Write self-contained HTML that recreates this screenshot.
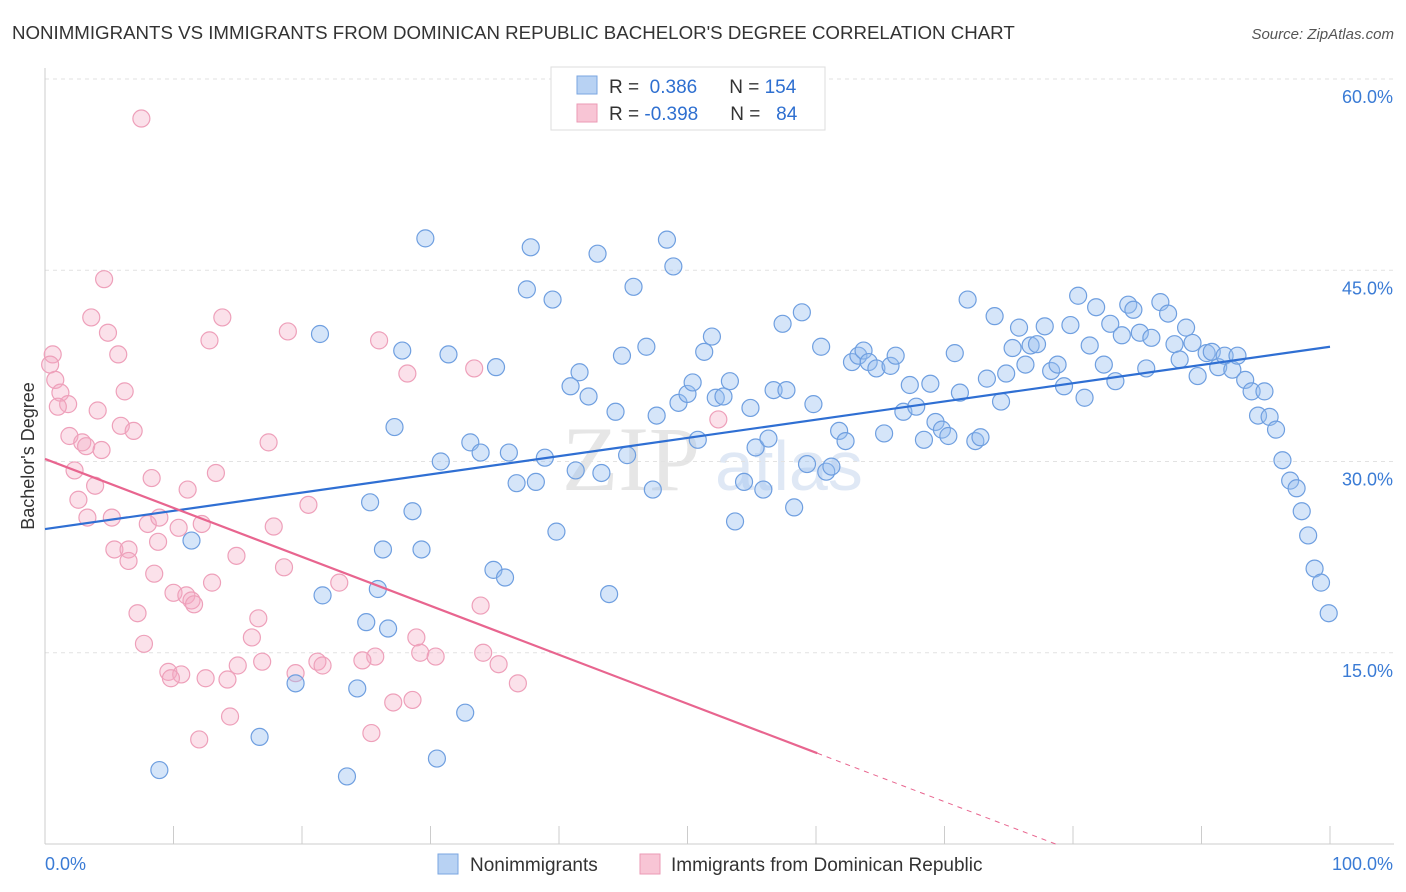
<!DOCTYPE html>
<html><head><meta charset="utf-8"><style>
body{margin:0;background:#fff;font-family:"Liberation Sans",sans-serif;}
svg{display:block}
</style></head><body>
<svg id="chart" width="1406" height="892" viewBox="0 0 1406 892">
<text x="12" y="39" font-size="18.7" fill="#333">NONIMMIGRANTS VS IMMIGRANTS FROM DOMINICAN REPUBLIC BACHELOR'S DEGREE CORRELATION CHART</text>
<text x="1394" y="39" font-size="15" fill="#555" font-style="italic" text-anchor="end">Source: ZipAtlas.com</text>
<text x="700" y="490" font-size="92" fill="#e6e6e6" text-anchor="end" font-family="Liberation Serif,serif">ZIP</text>
<text x="715" y="490" font-size="70" fill="#dfe8f5">atlas</text>
<g id="grid"></g>
<g id="marks"></g>
<g id="lines"></g>
<text transform="translate(34,456) rotate(-90)" font-size="18" fill="#333" text-anchor="middle">Bachelor's Degree</text>
<g>
<rect x="551" y="67" width="274" height="63" fill="#fff" stroke="#ddd"/>
<rect x="577" y="76" width="20" height="18" fill="#b8d2f3" stroke="#7aa6e0"/>
<rect x="577" y="104" width="20" height="18" fill="#f8c5d5" stroke="#eb9ab5"/>
<text x="609" y="93" font-size="19" fill="#333">R = <tspan fill="#2e6fd0">&#160;0.386</tspan><tspan dx="32">N = </tspan><tspan fill="#2e6fd0">154</tspan></text>
<text x="609" y="120" font-size="19" fill="#333">R = <tspan fill="#2e6fd0">-0.398</tspan><tspan dx="32">N = </tspan><tspan fill="#2e6fd0">&#160;&#160;84</tspan></text>
</g>
<g>
<rect x="438" y="854" width="20" height="20" fill="#b8d2f3" stroke="#7aa6e0"/>
<text x="470" y="871" font-size="19" fill="#333">Nonimmigrants</text>
<rect x="640" y="854" width="20" height="20" fill="#f8c5d5" stroke="#eb9ab5"/>
<text x="671" y="871" font-size="19" fill="#333">Immigrants from Dominican Republic</text>
</g>
</svg>
<script>
const blueX=[29.6,37.8,43.0,48.4,48.9,37.5,39.5,45.8,21.4,27.8,31.4,35.1,27.2,30.8,33.1,33.9,36.1,36.7,38.2,38.9,41.3,43.3,45.3,47.3,25.3,28.6,26.3,29.3,11.4,21.6,25.9,25.0,26.7,34.9,35.8,39.8,43.9,19.5,24.3,16.7,32.7,8.9,23.5,30.5,40.9,41.6,42.3,44.4,44.9,46.8,47.6,49.3,50.0,50.4,50.8,51.3,51.9,52.2,52.8,53.3,54.9,55.3,56.3,56.7,57.4,57.7,58.9,59.8,60.4,61.8,62.3,62.8,63.3,63.7,64.1,64.7,65.3,65.8,66.2,66.8,67.3,67.8,68.4,68.9,69.3,69.8,70.3,70.8,71.2,71.8,72.4,72.8,73.3,73.9,74.4,74.8,75.3,75.8,76.3,76.7,77.2,77.8,78.3,78.8,79.3,79.8,80.4,80.9,81.3,81.8,82.4,82.9,83.3,83.8,84.3,84.7,85.2,85.7,86.1,86.8,87.4,87.9,88.3,88.8,89.3,89.7,90.4,90.8,91.3,91.8,92.4,92.8,93.4,93.9,94.4,94.9,95.3,95.8,96.3,96.9,97.4,97.8,98.3,98.8,99.3,99.9,46.1,53.7,55.9,54.4,58.3,59.3,60.8,61.2];
const blueY=[47.5,46.8,46.3,47.4,45.3,43.5,42.7,43.7,40.0,38.7,38.4,37.4,32.7,30.0,31.5,30.7,30.7,28.3,28.4,30.3,29.3,29.1,30.5,27.8,26.8,26.1,23.1,23.1,23.8,19.5,20.0,17.4,16.9,21.5,20.9,24.5,19.6,12.6,12.2,8.4,10.3,5.8,5.3,6.7,35.9,37.0,35.1,33.9,38.3,39.0,33.6,34.6,35.3,36.2,31.7,38.6,39.8,35.0,35.1,36.3,34.2,31.1,31.8,35.6,40.8,35.6,41.7,34.5,39.0,32.4,31.6,37.8,38.3,38.7,37.8,37.3,32.2,37.5,38.3,33.9,36.0,34.3,31.7,36.1,33.1,32.5,32.0,38.5,35.4,42.7,31.6,31.9,36.5,41.4,34.7,36.9,38.9,40.5,37.6,39.1,39.2,40.6,37.1,37.6,35.9,40.7,43.0,35.0,39.1,42.1,37.6,40.8,36.3,39.9,42.3,41.9,40.1,37.3,39.7,42.5,41.6,39.2,38.0,40.5,39.3,36.7,38.5,38.6,37.4,38.3,37.2,38.3,36.4,35.5,33.6,35.5,33.5,32.5,30.1,28.5,27.9,26.1,24.2,21.6,20.5,18.1,58.9,25.3,27.8,28.4,26.4,29.8,29.2,29.6];
const pinkX=[7.5,4.6,3.6,4.9,13.8,12.8,18.9,26.0,5.7,28.2,33.4,0.6,0.4,0.8,1.2,1.8,1.0,6.2,4.1,1.9,2.9,3.2,4.4,5.9,6.9,17.4,2.3,3.9,8.3,11.1,13.3,2.6,3.3,5.2,8.0,8.9,10.4,12.2,8.8,5.4,6.5,6.5,14.9,17.8,20.5,8.5,13.0,10.0,11.0,11.4,11.6,18.6,22.9,16.6,7.2,33.9,16.1,7.7,28.9,29.2,30.4,34.1,25.7,24.7,21.2,21.6,19.5,9.6,10.6,9.8,12.5,15.0,16.9,14.2,35.3,36.8,27.1,28.6,14.4,25.4,12.0,52.4];
const pinkY=[56.9,44.3,41.3,40.1,41.3,39.5,40.2,39.5,38.4,36.9,37.3,38.4,37.6,36.4,35.4,34.5,34.3,35.5,34.0,32.0,31.5,31.2,30.9,32.8,32.4,31.5,29.3,28.1,28.7,27.8,29.1,27.0,25.6,25.6,25.1,25.6,24.8,25.1,23.7,23.1,23.1,22.2,22.6,24.9,26.6,21.2,20.5,19.7,19.5,19.1,18.8,21.7,20.5,17.7,18.1,18.7,16.2,15.7,16.2,15.0,14.7,15.0,14.7,14.4,14.3,14.0,13.4,13.5,13.3,13.0,13.0,14.0,14.3,12.9,14.1,12.6,11.1,11.3,10.0,8.7,8.2,33.3];
const yTicks=[15,30,45,60];
const yTickLabels=["15.0%","30.0%","45.0%","60.0%"];
const xTicks=[0,10,20,30,40,50,60,70,80,90,100];
const blueFit=[24.7,39.0];
const pinkFit=[30.2,-0.384];
const pinkSolidEnd=60.1;

const NS="http://www.w3.org/2000/svg";
const X=v=>45+v*12.85;
const Y=v=>844-v*12.75;
function mk(tag,attrs,parent){const e=document.createElementNS(NS,tag);for(const k in attrs)e.setAttribute(k,attrs[k]);parent.appendChild(e);return e;}
const grid=document.getElementById('grid'),marks=document.getElementById('marks'),lines=document.getElementById('lines');
yTicks.forEach((t,i)=>{
 const g=mk('line',{x1:45,x2:1394,y1:Y(t),y2:Y(t),stroke:'#e2e2e2','stroke-dasharray':'4,4'},grid);
 
 
 const l=mk('text',{x:1393,y:Y(t)+24,'font-size':18,fill:'#3a7bd5','text-anchor':'end'},grid);
 l.textContent=yTickLabels[i];
 
 
});
const ax=mk('line',{x1:45,x2:1394,y1:844,y2:844,stroke:'#ccc'},grid);


const ay=mk('line',{x1:45,x2:45,y1:68,y2:844,stroke:'#ccc'},grid);


xTicks.forEach(t=>{
 const tk=mk('line',{x1:X(t),x2:X(t),y1:826,y2:844,stroke:'#ccc'},grid);
 
 
});
const xl0=mk('text',{x:45,y:870,'font-size':18,fill:'#3a7bd5'},grid);xl0.textContent='0.0%';


const xl1=mk('text',{x:1393,y:870,'font-size':18,fill:'#3a7bd5','text-anchor':'end'},grid);xl1.textContent='100.0%';


pinkX.forEach((x,i)=>{
 const c=mk('circle',{cx:X(x),cy:Y(pinkY[i]),r:8.5,fill:'rgba(244,170,195,0.35)',stroke:'#eea0ba','stroke-width':1.2},marks);
 
 
});
blueX.forEach((x,i)=>{
 const c=mk('circle',{cx:X(x),cy:Y(blueY[i]),r:8.5,fill:'rgba(150,190,240,0.4)',stroke:'#6f9fe0','stroke-width':1.2},marks);
 
 
});
const bl=mk('line',{x1:X(0),y1:Y(blueFit[0]),x2:X(100),y2:Y(blueFit[1]),stroke:'#2f6fd3','stroke-width':2.2},lines);


const pl=mk('line',{x1:X(0),y1:Y(pinkFit[0]),x2:X(pinkSolidEnd),y2:Y(pinkFit[0]+pinkFit[1]*pinkSolidEnd),stroke:'#e8658f','stroke-width':2.2},lines);


const xz=-pinkFit[0]/pinkFit[1];
const pd=mk('line',{x1:X(pinkSolidEnd),y1:Y(pinkFit[0]+pinkFit[1]*pinkSolidEnd),x2:X(xz),y2:Y(0),stroke:'#e8658f','stroke-width':1,'stroke-dasharray':'5,5'},lines);


</script>
</body></html>
